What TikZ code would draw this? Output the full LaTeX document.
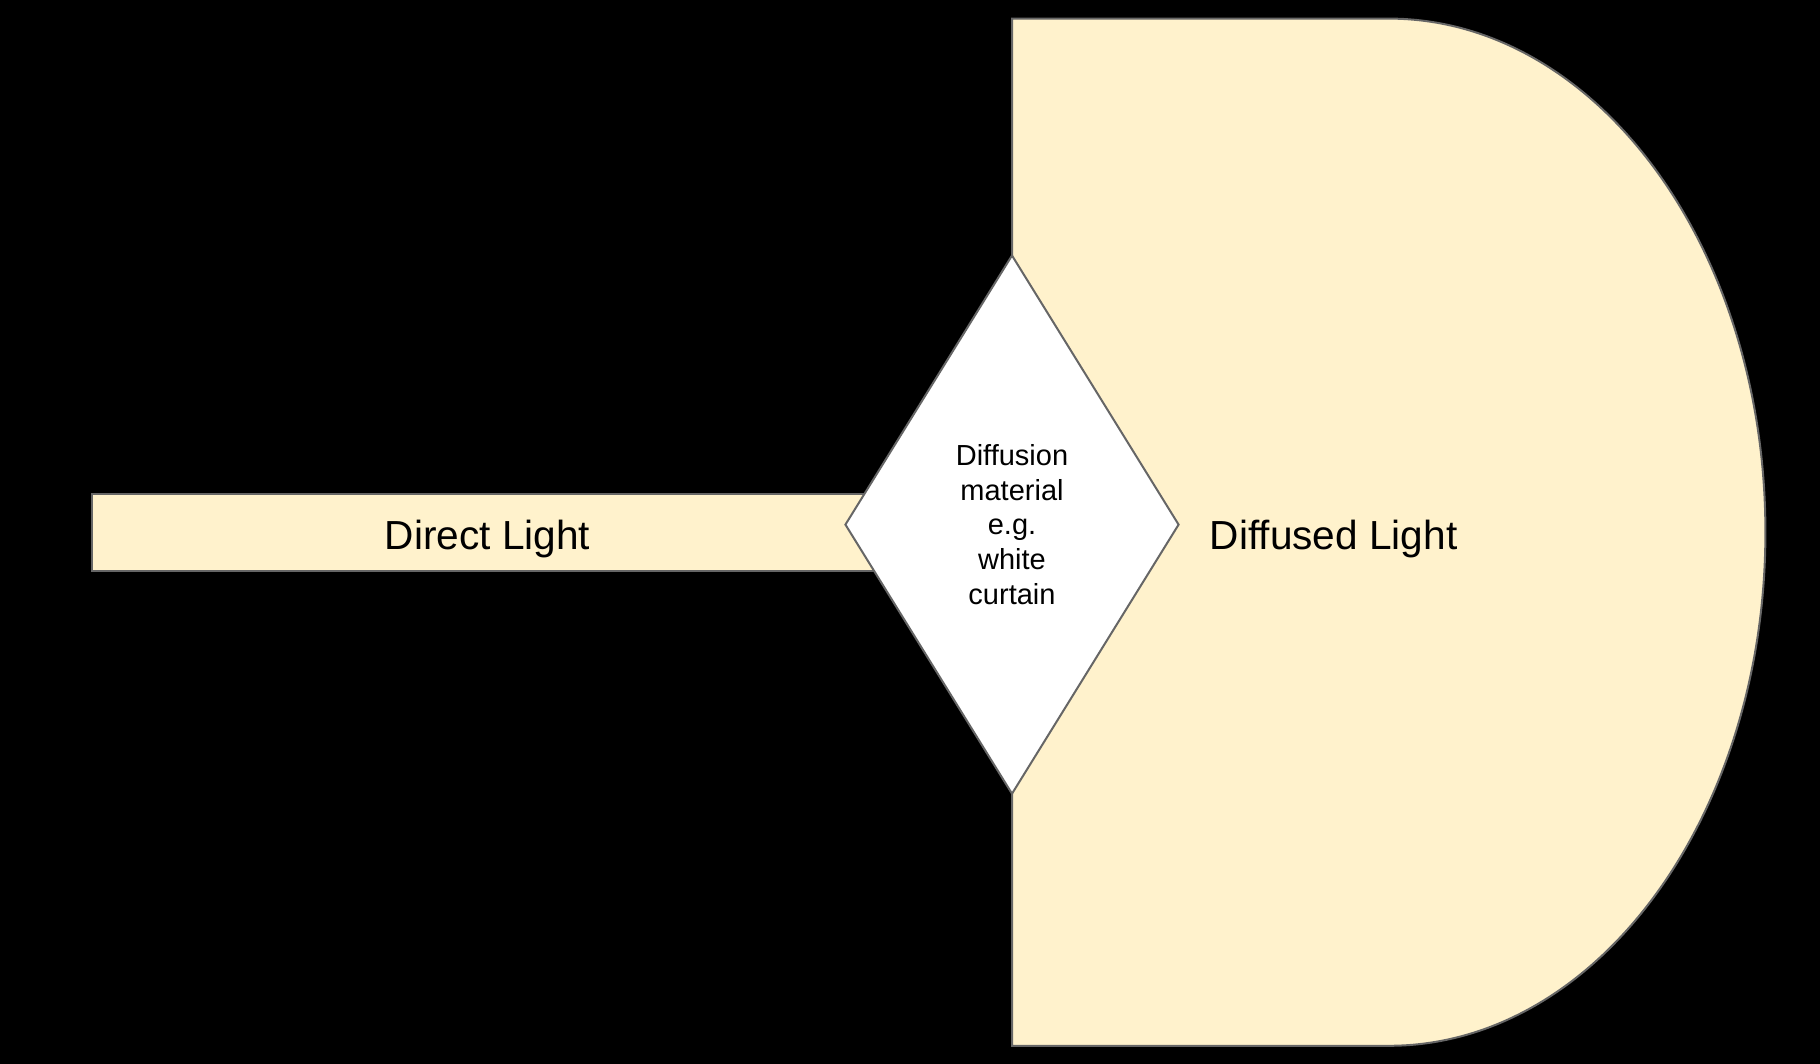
\documentclass[tikz,border=0pt]{standalone}
\usepackage{fontspec}
\setmainfont{Liberation Sans}
\usetikzlibrary{shapes.geometric}
\definecolor{lightfill}{HTML}{FFF2CC}
\definecolor{edgegrey}{HTML}{666666}
\begin{document}
\begin{tikzpicture}[x=1pt,y=-1pt,
  shapestyle/.style={fill=lightfill, draw=edgegrey, line width=2pt},
  bigtext/.style={font=\fontsize{40.6}{48.7}\selectfont, text height=33pt, text depth=0pt},
  smalltext/.style={font=\fontsize{29}{34.8}\selectfont, align=center}]
\fill[black] (0,0) rectangle (1820,1064);
\useasboundingbox (0,0) rectangle (1820,1064);
\node[shapestyle, rectangle, minimum width=791pt, minimum height=77pt, inner sep=0pt, bigtext] (direct) at (487.5,532.5) {Direct Light};
\path[shapestyle] (1012,18.6) -- (1388.7,18.6)
  .. controls (1596.7,18.6) and (1765.4,248.5) .. (1765.4,532.2)
  .. controls (1765.4,815.9) and (1596.7,1045.8) .. (1388.7,1045.8)
  -- (1012,1045.8) -- cycle;
\node[bigtext, inner sep=0pt] (diffused) at (1333.6,532.5) {Diffused Light};
\node[shapestyle, fill=white, diamond, minimum width=334pt, minimum height=539pt, inner sep=0pt, smalltext] (diffuser) at (1012,524.6) {Diffusion\\material\\e.g.\\white\\curtain};
\end{tikzpicture}
\end{document}
